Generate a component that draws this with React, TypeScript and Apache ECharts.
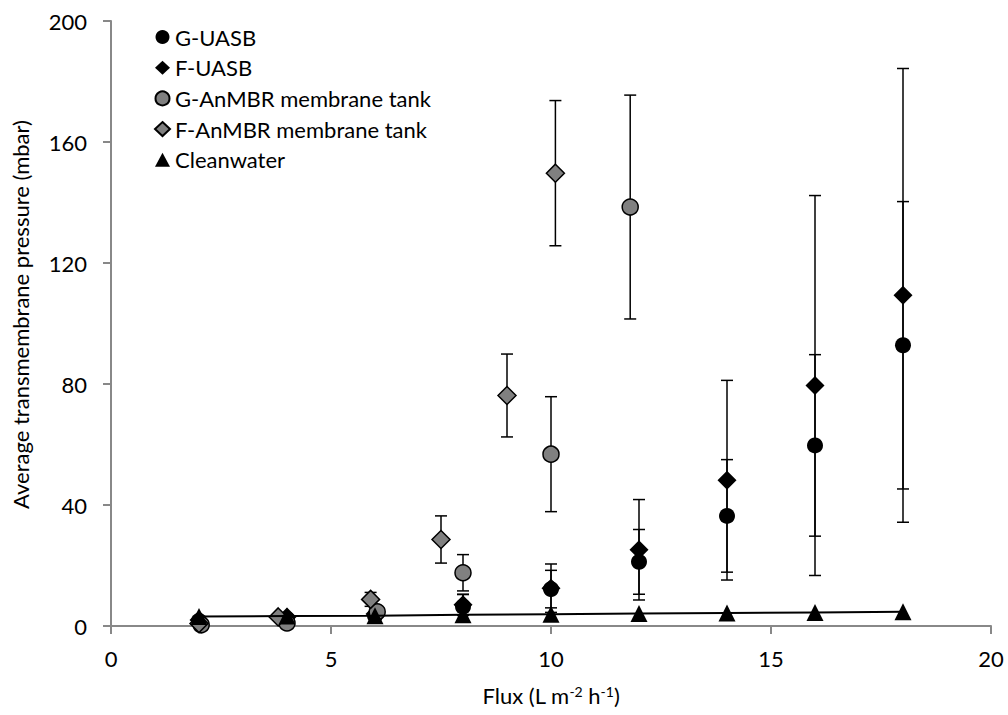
import React, { useEffect, useRef } from "react";
import * as echarts from "echarts";

const seriesNames = [
  "G-UASB",
  "F-UASB",
  "G-AnMBR membrane tank",
  "F-AnMBR membrane tank",
  "Cleanwater",
];

const xUasb = [2, 4, 6, 8, 10, 12, 14, 16, 18];
const gUasbY = [1.7, 2.3, 3.4, 6.4, 12.2, 21.2, 36.4, 59.7, 92.8];
const gUasbErr = [0.5, 0.5, 1, 4, 6.2, 10.7, 18.6, 30, 47.5];
const fUasbY = [2.0, 3.0, 4.0, 7.0, 12.5, 25.2, 48.2, 79.5, 109.3];
const fUasbErr = [0.5, 0.5, 1, 3.5, 8, 16.6, 33, 62.8, 75];

const xGAn = [2.05, 4, 6.05, 8, 10, 11.8];
const gAnY = [0.4, 1.0, 4.7, 17.6, 56.8, 138.5];
const gAnErr = [0.3, 0.5, 1.5, 6, 19, 37];

const xFAn = [2, 3.8, 5.9, 7.5, 9, 10.1];
const fAnY = [0.8, 3.0, 8.8, 28.6, 76.2, 149.7];
const fAnErr = [0.3, 0.5, 2.3, 7.8, 13.7, 24];

const xClean = [2, 4, 6, 8, 10, 12, 14, 16, 18];
const cleanY = [3.1, 3.3, 3.4, 3.7, 3.9, 4.1, 4.3, 4.5, 4.7];

const FONT = "Lato";
const GRAY = "#808080";

function pts(xs: number[], ys: number[]) {
  return xs.map((x, i) => [x, ys[i]]);
}
function errs(xs: number[], ys: number[], es: number[]) {
  return xs.map((x, i) => [x, ys[i] - es[i], ys[i] + es[i]]);
}

function errorSeries(name: string, data: number[][]) {
  return {
    type: "custom",
    name: name + "-err",
    data,
    encode: { x: 0, y: [1, 2] },
    silent: true,
    renderItem: (params: any, api: any) => {
      const x = api.value(0);
      const top = api.coord([x, api.value(2)]);
      const bot = api.coord([x, api.value(1)]);
      const w = 6;
      const style = { stroke: "#000", lineWidth: 1.5 };
      return {
        type: "group",
        children: [
          { type: "line", shape: { x1: top[0], y1: top[1], x2: bot[0], y2: bot[1] }, style },
          { type: "line", shape: { x1: top[0] - w, y1: top[1], x2: top[0] + w, y2: top[1] }, style },
          { type: "line", shape: { x1: bot[0] - w, y1: bot[1], x2: bot[0] + w, y2: bot[1] }, style },
        ],
      };
    },
  };
}

export default function App() {
  const ref = useRef<HTMLDivElement>(null);
  useEffect(() => {
    document.body.style.margin = "0";
    if (!ref.current) return;
    const chart = echarts.init(ref.current, null, { renderer: "svg" });
    const axisLine = { lineStyle: { color: "#888888", width: 2 } };
    chart.setOption({
      animation: false,
      backgroundColor: "#ffffff",
      textStyle: { fontFamily: FONT },
      grid: { left: 111, right: 17, top: 21, bottom: 89 },
      legend: {
        orient: "vertical",
        left: 149,
        top: 21,
        itemWidth: 15,
        itemHeight: 14,
        itemGap: 8.7,
        textStyle: { fontFamily: FONT, fontSize: 22, color: "#000" },
        data: [
          { name: seriesNames[0], icon: "circle" },
          { name: seriesNames[1], icon: "diamond" },
          { name: seriesNames[2], icon: "circle" },
          { name: seriesNames[3], icon: "diamond" },
          { name: seriesNames[4], icon: "triangle" },
        ],
      },
      xAxis: {
        type: "value",
        min: 0,
        max: 20,
        interval: 5,
        splitLine: { show: false },
        axisLine,
        axisTick: { show: true, length: 8, lineStyle: { color: "#888888", width: 2 } },
        axisLabel: { fontFamily: FONT, fontSize: 22, color: "#000", margin: 21 },
        name: "{a|Flux (L m}{s|-2}{a| h}{s|-1}{a|)}",
        nameLocation: "middle",
        nameGap: 58,
        nameTextStyle: {
          rich: {
            a: { fontFamily: FONT, fontSize: 22, color: "#000" },
            s: { fontFamily: FONT, fontSize: 14, color: "#000", padding: [0, 0, 9, 0] },
          },
        },
      },
      yAxis: {
        type: "value",
        min: 0,
        max: 200,
        interval: 40,
        splitLine: { show: false },
        axisLine: { show: true, ...axisLine },
        axisTick: { show: true, length: 8, lineStyle: { color: "#888888", width: 2 } },
        axisLabel: { fontFamily: FONT, fontSize: 22, color: "#000", margin: 24 },
        name: "Average transmembrane pressure (mbar)",
        nameLocation: "middle",
        nameGap: 80,
        nameTextStyle: { fontFamily: FONT, fontSize: 22, color: "#000", padding: [0, 0, 0, 18] },
      },
      series: [
        errorSeries(seriesNames[0], errs(xUasb, gUasbY, gUasbErr)),
        {
          type: "scatter",
          name: seriesNames[0],
          data: pts(xUasb, gUasbY),
          symbol: "circle",
          symbolSize: 16,
          itemStyle: { color: "#000", opacity: 1 },
        },
        errorSeries(seriesNames[1], errs(xUasb, fUasbY, fUasbErr)),
        {
          type: "scatter",
          name: seriesNames[1],
          data: pts(xUasb, fUasbY),
          symbol: "diamond",
          symbolSize: 19,
          itemStyle: { color: "#000", opacity: 1 },
        },
        errorSeries(seriesNames[2], errs(xGAn, gAnY, gAnErr)),
        {
          type: "scatter",
          name: seriesNames[2],
          data: pts(xGAn, gAnY),
          symbol: "circle",
          symbolSize: 16,
          itemStyle: { color: GRAY, borderColor: "#000", borderWidth: 1.5, opacity: 1 },
        },
        errorSeries(seriesNames[3], errs(xFAn, fAnY, fAnErr)),
        {
          type: "scatter",
          name: seriesNames[3],
          data: pts(xFAn, fAnY),
          symbol: "diamond",
          symbolSize: 18,
          itemStyle: { color: GRAY, borderColor: "#000", borderWidth: 1.5, opacity: 1 },
        },
        {
          type: "line",
          name: seriesNames[4],
          data: pts(xClean, cleanY),
          symbol: "triangle",
          symbolSize: 17,
          showAllSymbol: true,
          lineStyle: { color: "#000", width: 2 },
          itemStyle: { color: "#000", opacity: 1 },
        },
      ],
    });
    return () => chart.dispose();
  }, []);
  return <div ref={ref} style={{ width: 1008, height: 715 }} />;
}
